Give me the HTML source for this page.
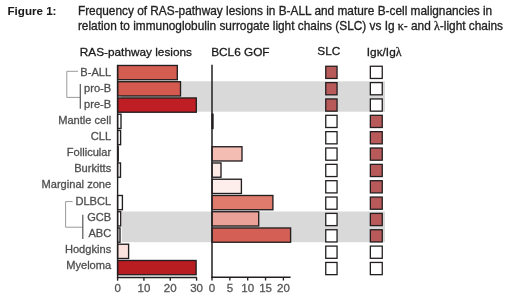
<!DOCTYPE html>
<html><head><meta charset="utf-8"><style>
html,body{margin:0;padding:0;background:#fff}
body{width:520px;height:301px;position:relative;overflow:hidden;font-family:"Liberation Sans",sans-serif}
svg{position:absolute;left:0;top:0;display:block;will-change:transform}
text{font-family:"Liberation Sans",sans-serif;white-space:pre}
.g{font-family:"Liberation Serif",serif}
</style></head><body>
<svg width="520" height="301" viewBox="0 0 520 301">
<rect x="121.80" y="81.30" width="263.20" height="30.40" fill="#d9d9d9"/>
<rect x="121.80" y="211.50" width="263.20" height="30.70" fill="#d9d9d9"/>
<text x="7.50" y="15.20" font-size="11.6" font-weight="bold" fill="#1a1a1a" stroke="#1a1a1a" stroke-width="0.05" text-anchor="start">Figure 1:</text>
<text x="77.90" y="15.40" font-size="11.85" fill="#222" stroke="#222" stroke-width="0.3" text-anchor="start">Frequency of RAS-pathway lesions in B-ALL and mature B-cell malignancies in</text>
<text x="77.90" y="29.80" font-size="11.85" fill="#222" stroke="#222" stroke-width="0.3" text-anchor="start">relation to immunoglobulin surrogate light chains (SLC) vs Ig <tspan class="g">&#954;</tspan>- and <tspan class="g">&#955;</tspan>-light chains</text>
<text x="79.80" y="55.60" font-size="11.8" fill="#1a1a1a" stroke="#1a1a1a" stroke-width="0.3" text-anchor="start">RAS-pathway lesions</text>
<text x="211.20" y="55.60" font-size="11.8" fill="#1a1a1a" stroke="#1a1a1a" stroke-width="0.3" text-anchor="start">BCL6 GOF</text>
<text x="317.30" y="55.40" font-size="11.8" fill="#1a1a1a" stroke="#1a1a1a" stroke-width="0.3" text-anchor="start">SLC</text>
<text x="366.80" y="55.60" font-size="11.8" fill="#1a1a1a" stroke="#1a1a1a" stroke-width="0.3" text-anchor="start">Ig<tspan class="g">&#954;</tspan>/Ig<tspan class="g">&#955;</tspan></text>
<text x="111.20" y="75.50" font-size="11.1" fill="#4f4f4f" stroke="#4f4f4f" stroke-width="0.3" text-anchor="end">B-ALL</text>
<text x="111.20" y="91.63" font-size="11.1" fill="#4f4f4f" stroke="#4f4f4f" stroke-width="0.3" text-anchor="end">pro-B</text>
<text x="111.20" y="107.76" font-size="11.1" fill="#4f4f4f" stroke="#4f4f4f" stroke-width="0.3" text-anchor="end">pre-B</text>
<text x="111.20" y="123.89" font-size="11.1" fill="#4f4f4f" stroke="#4f4f4f" stroke-width="0.3" text-anchor="end">Mantle cell</text>
<text x="111.20" y="140.02" font-size="11.1" fill="#4f4f4f" stroke="#4f4f4f" stroke-width="0.3" text-anchor="end">CLL</text>
<text x="111.20" y="156.15" font-size="11.1" fill="#4f4f4f" stroke="#4f4f4f" stroke-width="0.3" text-anchor="end">Follicular</text>
<text x="111.20" y="172.28" font-size="11.1" fill="#4f4f4f" stroke="#4f4f4f" stroke-width="0.3" text-anchor="end">Burkitts</text>
<text x="111.20" y="188.41" font-size="11.1" fill="#4f4f4f" stroke="#4f4f4f" stroke-width="0.3" text-anchor="end">Marginal zone</text>
<text x="111.20" y="204.54" font-size="11.1" fill="#4f4f4f" stroke="#4f4f4f" stroke-width="0.3" text-anchor="end">DLBCL</text>
<text x="111.20" y="220.67" font-size="11.1" fill="#4f4f4f" stroke="#4f4f4f" stroke-width="0.3" text-anchor="end">GCB</text>
<text x="111.20" y="236.80" font-size="11.1" fill="#4f4f4f" stroke="#4f4f4f" stroke-width="0.3" text-anchor="end">ABC</text>
<text x="111.20" y="252.93" font-size="11.1" fill="#4f4f4f" stroke="#4f4f4f" stroke-width="0.3" text-anchor="end">Hodgkins</text>
<text x="111.20" y="269.06" font-size="11.1" fill="#4f4f4f" stroke="#4f4f4f" stroke-width="0.3" text-anchor="end">Myeloma</text>
<line x1="66.80" y1="71.30" x2="78.00" y2="71.30" stroke="#9a9a9a" stroke-width="1"/>
<line x1="66.80" y1="71.30" x2="66.80" y2="97.40" stroke="#9a9a9a" stroke-width="1"/>
<line x1="66.80" y1="97.40" x2="80.40" y2="97.40" stroke="#9a9a9a" stroke-width="1"/>
<line x1="80.30" y1="84.00" x2="80.30" y2="108.80" stroke="#555" stroke-width="1.2"/>
<line x1="65.60" y1="201.60" x2="72.60" y2="201.60" stroke="#9a9a9a" stroke-width="1"/>
<line x1="65.60" y1="201.60" x2="65.60" y2="227.20" stroke="#9a9a9a" stroke-width="1"/>
<line x1="65.60" y1="227.20" x2="82.60" y2="227.20" stroke="#9a9a9a" stroke-width="1"/>
<line x1="82.80" y1="214.80" x2="82.80" y2="238.90" stroke="#555" stroke-width="1.2"/>
<rect x="117.60" y="65.47" width="59.70" height="14.25" fill="#d45d52" stroke="#231f20" stroke-width="1.35"/>
<rect x="117.60" y="81.72" width="62.90" height="14.25" fill="#d45a50" stroke="#231f20" stroke-width="1.35"/>
<rect x="117.60" y="97.97" width="78.70" height="14.25" fill="#bf1f24" stroke="#231f20" stroke-width="1.35"/>
<rect x="117.60" y="114.22" width="3.40" height="14.25" fill="#fff" stroke="#231f20" stroke-width="1.35"/>
<rect x="117.60" y="130.48" width="3.00" height="14.25" fill="#fff" stroke="#231f20" stroke-width="1.35"/>
<rect x="117.60" y="146.73" width="0.60" height="14.25" fill="#fff" stroke="#231f20" stroke-width="1.35"/>
<rect x="117.60" y="162.98" width="2.90" height="14.25" fill="#fff" stroke="#231f20" stroke-width="1.35"/>
<rect x="117.60" y="195.48" width="4.80" height="14.25" fill="#fff" stroke="#231f20" stroke-width="1.35"/>
<rect x="117.60" y="211.73" width="3.10" height="14.25" fill="#fff" stroke="#231f20" stroke-width="1.35"/>
<rect x="117.60" y="227.98" width="2.40" height="14.25" fill="#fff" stroke="#231f20" stroke-width="1.35"/>
<rect x="117.60" y="244.23" width="11.00" height="14.25" fill="#fce2de" stroke="#231f20" stroke-width="1.35"/>
<rect x="117.60" y="260.48" width="78.50" height="14.25" fill="#b91c21" stroke="#231f20" stroke-width="1.35"/>
<line x1="117.60" y1="64.90" x2="117.60" y2="278.20" stroke="#231f20" stroke-width="1.4"/>
<line x1="116.90" y1="277.50" x2="196.90" y2="277.50" stroke="#231f20" stroke-width="1.4"/>
<line x1="117.60" y1="277.50" x2="117.60" y2="280.70" stroke="#231f20" stroke-width="1.35"/>
<text x="117.60" y="291.90" font-size="11.5" fill="#555" stroke="#555" stroke-width="0.3" text-anchor="middle">0</text>
<line x1="143.93" y1="277.50" x2="143.93" y2="280.70" stroke="#231f20" stroke-width="1.35"/>
<text x="143.93" y="291.90" font-size="11.5" fill="#555" stroke="#555" stroke-width="0.3" text-anchor="middle">10</text>
<line x1="170.26" y1="277.50" x2="170.26" y2="280.70" stroke="#231f20" stroke-width="1.35"/>
<text x="170.26" y="291.90" font-size="11.5" fill="#555" stroke="#555" stroke-width="0.3" text-anchor="middle">20</text>
<line x1="196.59" y1="277.50" x2="196.59" y2="280.70" stroke="#231f20" stroke-width="1.35"/>
<text x="196.59" y="291.90" font-size="11.5" fill="#555" stroke="#555" stroke-width="0.3" text-anchor="middle">30</text>
<rect x="212.00" y="114.22" width="1.00" height="14.25" fill="#fff" stroke="#231f20" stroke-width="1.35"/>
<rect x="212.00" y="146.73" width="30.00" height="14.25" fill="#f3bdb3" stroke="#231f20" stroke-width="1.35"/>
<rect x="212.00" y="162.98" width="9.00" height="14.25" fill="#fde9e5" stroke="#231f20" stroke-width="1.35"/>
<rect x="212.00" y="179.23" width="29.40" height="14.25" fill="#fdeeeb" stroke="#231f20" stroke-width="1.35"/>
<rect x="212.00" y="195.48" width="60.90" height="14.25" fill="#df7b6c" stroke="#231f20" stroke-width="1.35"/>
<rect x="212.00" y="211.73" width="46.70" height="14.25" fill="#eaa198" stroke="#231f20" stroke-width="1.35"/>
<rect x="212.00" y="227.98" width="78.60" height="14.25" fill="#d45f55" stroke="#231f20" stroke-width="1.35"/>
<line x1="212.00" y1="64.80" x2="212.00" y2="278.10" stroke="#231f20" stroke-width="1.5"/>
<line x1="211.25" y1="277.30" x2="290.60" y2="277.30" stroke="#231f20" stroke-width="1.4"/>
<line x1="212.00" y1="277.30" x2="212.00" y2="280.50" stroke="#231f20" stroke-width="1.35"/>
<text x="212.00" y="291.90" font-size="11.5" fill="#555" stroke="#555" stroke-width="0.3" text-anchor="middle">0</text>
<line x1="229.85" y1="277.30" x2="229.85" y2="280.50" stroke="#231f20" stroke-width="1.35"/>
<text x="229.85" y="291.90" font-size="11.5" fill="#555" stroke="#555" stroke-width="0.3" text-anchor="middle">5</text>
<line x1="247.70" y1="277.30" x2="247.70" y2="280.50" stroke="#231f20" stroke-width="1.35"/>
<text x="247.70" y="291.90" font-size="11.5" fill="#555" stroke="#555" stroke-width="0.3" text-anchor="middle">10</text>
<line x1="265.55" y1="277.30" x2="265.55" y2="280.50" stroke="#231f20" stroke-width="1.35"/>
<text x="265.55" y="291.90" font-size="11.5" fill="#555" stroke="#555" stroke-width="0.3" text-anchor="middle">15</text>
<line x1="283.40" y1="277.30" x2="283.40" y2="280.50" stroke="#231f20" stroke-width="1.35"/>
<text x="283.40" y="291.90" font-size="11.5" fill="#555" stroke="#555" stroke-width="0.3" text-anchor="middle">20</text>
<rect x="325.75" y="66.25" width="11.30" height="12.20" fill="#b85a5a" stroke="#231f20" stroke-width="1.3"/>
<rect x="370.35" y="66.25" width="11.90" height="12.20" fill="#fff" stroke="#231f20" stroke-width="1.3"/>
<rect x="325.75" y="82.60" width="11.30" height="12.20" fill="#b85a5a" stroke="#231f20" stroke-width="1.3"/>
<rect x="370.35" y="82.60" width="11.90" height="12.20" fill="#fff" stroke="#231f20" stroke-width="1.3"/>
<rect x="325.75" y="98.95" width="11.30" height="12.20" fill="#b85a5a" stroke="#231f20" stroke-width="1.3"/>
<rect x="370.35" y="98.95" width="11.90" height="12.20" fill="#fff" stroke="#231f20" stroke-width="1.3"/>
<rect x="325.75" y="115.30" width="11.30" height="12.20" fill="#fff" stroke="#231f20" stroke-width="1.3"/>
<rect x="370.35" y="115.30" width="11.90" height="12.20" fill="#b85a5a" stroke="#231f20" stroke-width="1.3"/>
<rect x="325.75" y="131.65" width="11.30" height="12.20" fill="#fff" stroke="#231f20" stroke-width="1.3"/>
<rect x="370.35" y="131.65" width="11.90" height="12.20" fill="#b85a5a" stroke="#231f20" stroke-width="1.3"/>
<rect x="325.75" y="148.00" width="11.30" height="12.20" fill="#fff" stroke="#231f20" stroke-width="1.3"/>
<rect x="370.35" y="148.00" width="11.90" height="12.20" fill="#b85a5a" stroke="#231f20" stroke-width="1.3"/>
<rect x="325.75" y="164.35" width="11.30" height="12.20" fill="#fff" stroke="#231f20" stroke-width="1.3"/>
<rect x="370.35" y="164.35" width="11.90" height="12.20" fill="#b85a5a" stroke="#231f20" stroke-width="1.3"/>
<rect x="325.75" y="180.70" width="11.30" height="12.20" fill="#fff" stroke="#231f20" stroke-width="1.3"/>
<rect x="370.35" y="180.70" width="11.90" height="12.20" fill="#b85a5a" stroke="#231f20" stroke-width="1.3"/>
<rect x="325.75" y="197.05" width="11.30" height="12.20" fill="#fff" stroke="#231f20" stroke-width="1.3"/>
<rect x="370.35" y="197.05" width="11.90" height="12.20" fill="#b85a5a" stroke="#231f20" stroke-width="1.3"/>
<rect x="325.75" y="213.40" width="11.30" height="12.20" fill="#fff" stroke="#231f20" stroke-width="1.3"/>
<rect x="370.35" y="213.40" width="11.90" height="12.20" fill="#b85a5a" stroke="#231f20" stroke-width="1.3"/>
<rect x="325.75" y="229.75" width="11.30" height="12.20" fill="#fff" stroke="#231f20" stroke-width="1.3"/>
<rect x="370.35" y="229.75" width="11.90" height="12.20" fill="#b85a5a" stroke="#231f20" stroke-width="1.3"/>
<rect x="325.75" y="246.10" width="11.30" height="12.20" fill="#fff" stroke="#231f20" stroke-width="1.3"/>
<rect x="370.35" y="246.10" width="11.90" height="12.20" fill="#fff" stroke="#231f20" stroke-width="1.3"/>
<rect x="325.75" y="262.45" width="11.30" height="12.20" fill="#fff" stroke="#231f20" stroke-width="1.3"/>
<rect x="370.35" y="262.45" width="11.90" height="12.20" fill="#fff" stroke="#231f20" stroke-width="1.3"/>
</svg>
</body></html>
